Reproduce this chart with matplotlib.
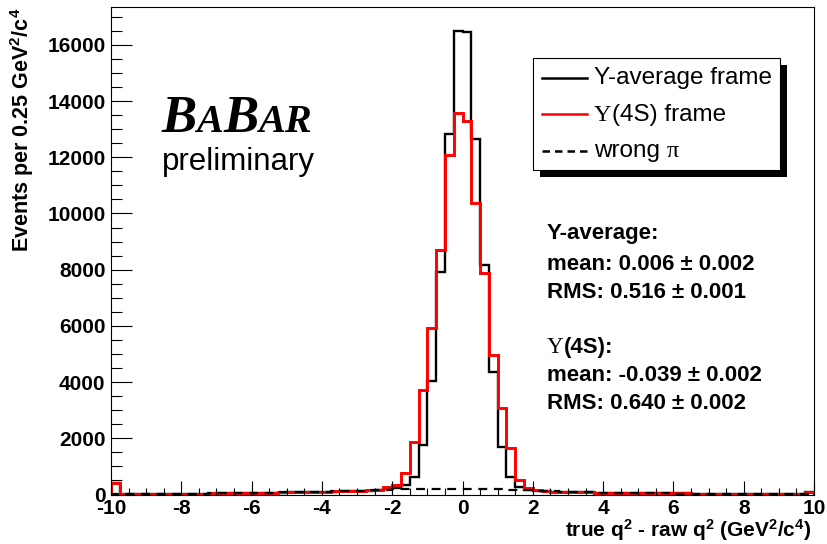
import numpy as np
import matplotlib
matplotlib.use('Agg')
import matplotlib.pyplot as plt
from matplotlib.patches import Rectangle
from matplotlib.ticker import MultipleLocator

plt.rcParams['font.family'] = ['Liberation Sans', 'DejaVu Sans']
plt.rcParams['axes.unicode_minus'] = False
plt.rcParams['mathtext.fontset'] = 'custom'
plt.rcParams['mathtext.rm'] = 'Liberation Sans:bold'
plt.rcParams['mathtext.bf'] = 'Liberation Sans:bold'
plt.rcParams['mathtext.it'] = 'Liberation Sans:bold:italic'

# histogram binning: 80 bins of 0.25 GeV^2/c^4 from -10 to 10
x_lo, x_hi, n_bins = -10, 10, 80

avg_frame = [400, 15, 15, 20, 20, 20, 25, 25,
             30, 30, 35, 35, 40, 40, 45, 50,
             55, 60, 65, 70, 75, 80, 85, 90,
             95, 100, 110, 120, 130, 140, 160, 180,
             230, 330, 610, 1775, 4055, 7900, 12830, 16510,
             16465, 12665, 8175, 4375, 1705, 635, 260, 170,
             130, 110, 100, 90, 85, 80, 75, 70,
             65, 60, 55, 55, 50, 50, 45, 45,
             40, 40, 35, 35, 35, 30, 30, 30,
             25, 25, 25, 20, 20, 20, 20, 90]

y4s_frame = [400, 20, 20, 20, 25, 25, 25, 30,
             30, 35, 35, 40, 40, 45, 50, 55,
             60, 65, 70, 75, 80, 90, 95, 100,
             105, 110, 120, 130, 140, 150, 170, 270,
             330, 780, 1880, 3720, 5920, 8710, 12095, 13580,
             13280, 10370, 7880, 4970, 3070, 1645, 520, 220,
             150, 120, 100, 90, 85, 80, 75, 70,
             65, 60, 55, 55, 50, 50, 45, 45,
             40, 40, 35, 35, 35, 30, 30, 30,
             25, 25, 25, 20, 20, 20, 20, 80]

wrong_pi = [30, 20, 20, 20, 25, 25, 25, 30,
            30, 35, 35, 40, 40, 45, 50, 55,
            60, 65, 70, 75, 80, 90, 95, 100,
            105, 110, 120, 130, 140, 150, 160, 170,
            180, 190, 200, 205, 210, 210, 210, 210,
            205, 200, 195, 190, 180, 170, 160, 150,
            140, 125, 110, 100, 90, 80, 75, 70,
            65, 60, 55, 50, 45, 45, 40, 40,
            35, 35, 30, 30, 30, 25, 25, 25,
            25, 20, 20, 20, 20, 20, 20, 30]

legend_labels = ["Y-average frame", ("\u03a5", "(4S) frame"), ("wrong ", "\u03c0")]
stats_lines = ["Y-average:", "mean: 0.006 \u00b1 0.002", "RMS: 0.516 \u00b1 0.001",
               ("\u03a5", "(4S):"), "mean: -0.039 \u00b1 0.002", "RMS: 0.640 \u00b1 0.002"]

edges = np.linspace(x_lo, x_hi, n_bins + 1)

W, H = 827, 544
fig = plt.figure(figsize=(W / 100, H / 100), dpi=100)
ax = fig.add_axes([111 / W, 1 - 494.5 / H, 703 / W, 487.2 / H])

ax.stairs(avg_frame, edges, color='black', lw=1.7)
ax.stairs(y4s_frame, edges, color='red', lw=2.1)
ax.stairs(wrong_pi, edges, color='black', lw=1.6, ls=(0, (4, 3)))

ax.set_xlim(x_lo, x_hi)
ax.set_ylim(0, 1.05 * max(avg_frame))
ax.xaxis.set_major_locator(MultipleLocator(2))
ax.xaxis.set_minor_locator(MultipleLocator(0.5))
ax.yaxis.set_major_locator(MultipleLocator(2000))
ax.yaxis.set_minor_locator(MultipleLocator(500))
ax.tick_params(which='both', direction='in', top=False, right=False, width=0.8)
ax.tick_params(axis='x', which='major', length=10, pad=3)
ax.tick_params(axis='x', which='minor', length=5)
ax.tick_params(axis='y', which='major', length=15, pad=4)
ax.tick_params(axis='y', which='minor', length=8)
for lab in ax.get_xticklabels() + ax.get_yticklabels():
    lab.set_fontsize(15)
    lab.set_fontweight('bold')
for sp in ax.spines.values():
    sp.set_linewidth(0.8)

ax.set_xlabel("true q$^{2}$ - raw q$^{2}$ (GeV$^{2}$/c$^{4}$)", loc='right',
              fontsize=15, fontweight='bold')
ax.xaxis.set_label_coords(0.997, -0.047)
ax.set_ylabel("Events per 0.25 GeV$^{2}$/c$^{4}$", loc='top',
              fontsize=15.5, fontweight='bold')
ax.yaxis.set_label_coords(-0.107, 1.0)

renderer = fig.canvas.get_renderer()


def px(x, y):
    return x / W, 1 - y / H


def chain(x, y, pieces):
    # place text pieces one after another on a common baseline (pixel coords)
    for s, kw in pieces:
        t = fig.text(*px(x, y), s, va='baseline', ha='left', **kw)
        x += t.get_window_extent(renderer).width


# BaBar logo
logo_big = dict(family='Liberation Serif', style='italic', weight='bold', size=38)
logo_small = dict(family='Liberation Serif', style='italic', weight='bold', size=29)
chain(161, 132, [("B", logo_big), ("A", logo_small), ("B", logo_big), ("AR", logo_small)])
fig.text(*px(162, 170), "preliminary", fontsize=22.5, va='baseline')

# legend box with hard shadow
fig.patches.append(Rectangle(px(540, 177), 247 / W, 112 / H, transform=fig.transFigure,
                             facecolor='black', edgecolor='none', zorder=5))
fig.patches.append(Rectangle(px(533, 170), 247 / W, 112 / H, transform=fig.transFigure,
                             facecolor='white', edgecolor='black', lw=0.8, zorder=6))
sans = dict(family='Liberation Sans', size=17.5, zorder=7)
serif = dict(family='Liberation Serif', size=17.5, zorder=7)
for yy, style in [(78, dict(color='black', ls='-')), (114, dict(color='red', ls='-')),
                  (151, dict(color='black', ls=(0, (3, 2))))]:
    fig.add_artist(plt.Line2D([542 / W, 587 / W], [1 - yy / H] * 2, lw=1.8, zorder=7, **style))
chain(594, 84, [(legend_labels[0], sans)])
chain(594, 121, [(legend_labels[1][0], serif), (legend_labels[1][1], sans)])
chain(594, 157, [(legend_labels[2][0], sans), (legend_labels[2][1], serif)])

# fit statistics
bold = dict(family='Liberation Sans', size=16, weight='bold')
serif_s = dict(family='Liberation Serif', size=16.5)
for yy, line in zip([239, 270, 298, 353, 381, 409], stats_lines):
    if isinstance(line, tuple):
        chain(547, yy, [(line[0], serif_s), (line[1], bold)])
    else:
        chain(547, yy, [(line, bold)])

fig.savefig('out.png', dpi=100)
